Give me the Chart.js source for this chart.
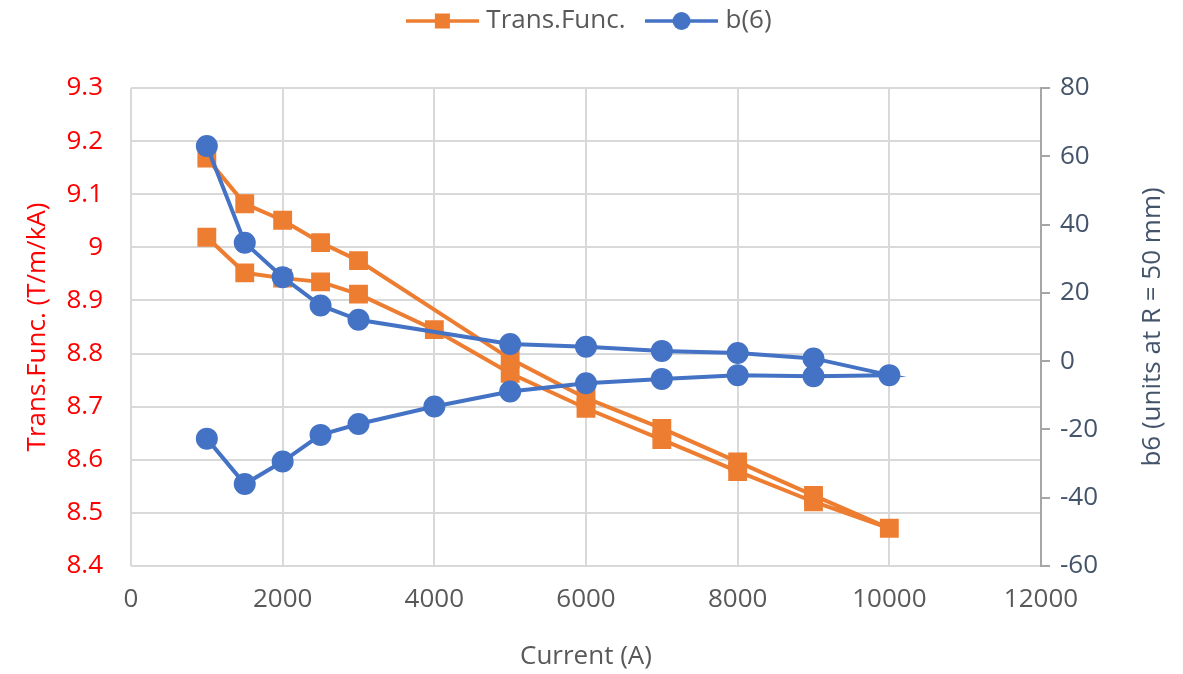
<!DOCTYPE html>
<html>
<head>
<meta charset="utf-8">
<script src="https://cdn.jsdelivr.net/npm/chart.js@4/dist/chart.umd.min.js"></script>
<style>
  body { margin: 0; background: #fff; }
</style>
</head>
<body>
<canvas id="myChart" width="1183" height="674"></canvas>
<script>
// ramp up (measured with the 4000 A point)
const rampUpCurrent = [1000, 1500, 2000, 2500, 3000, 4000, 5000, 6000, 7000, 8000, 9000, 10000];
const rampUpTransFunc = [9.019, 8.952, 8.942, 8.935, 8.912, 8.845, 8.763, 8.697, 8.638, 8.578, 8.521, 8.471];
const rampUpB6 = [-22.7, -36.0, -29.4, -21.6, -18.4, -13.3, -8.9, -6.5, -5.2, -4.1, -4.4, -4.1];

// ramp down
const rampDownCurrent = [9000, 8000, 7000, 6000, 5000, 3000, 2500, 2000, 1500, 1000];
const rampDownTransFunc = [8.533, 8.596, 8.659, 8.716, 8.790, 8.975, 9.009, 9.051, 9.082, 9.168];
const rampDownB6 = [0.8, 2.4, 3.0, 4.2, 5.0, 12.1, 16.3, 24.6, 34.7, 63.0];

const current = rampUpCurrent.concat(rampDownCurrent);
const transFunc = rampUpTransFunc.concat(rampDownTransFunc);
const b6 = rampUpB6.concat(rampDownB6);

const orange = '#ED7D31';
const blue = '#4472C4';
const rightTitle = 'b6 (units at R = 50 mm)';

function legendIcon(color, square) {
    const c = document.createElement('canvas');
    c.width = 73;
    c.height = 24;
    const g = c.getContext('2d');
    g.strokeStyle = color;
    g.fillStyle = color;
    g.lineWidth = 3.5;
    g.beginPath();
    g.moveTo(0, 12);
    g.lineTo(73, 12);
    g.stroke();
    if (square) {
        g.fillRect(36.5 - 7.5, 12 - 7.5, 15, 15);
    } else {
        g.beginPath();
        g.arc(36.5, 12, 9, 0, Math.PI * 2);
        g.fill();
    }
    return c;
}

const legendSpacing = {
    id: 'legendSpacing',
    beforeInit(chart) {
        const fit = chart.legend.fit;
        chart.legend.fit = function () {
            fit.call(this);
            this.height = 105;
        };
    }
};

// right axis title reads bottom to top, like Excel
const rightAxisTitle = {
    id: 'rightAxisTitle',
    afterDraw(chart) {
        const s = chart.scales.y1;
        const g = chart.ctx;
        g.save();
        g.translate(s.right - 30, (s.top + s.bottom) / 2);
        g.rotate(-Math.PI / 2);
        g.font = '26px "Open Sans"';
        g.fillStyle = '#44546A';
        g.textAlign = 'center';
        g.textBaseline = 'middle';
        g.fillText(rightTitle, 0, 0);
        g.restore();
    }
};

const font = { family: 'Open Sans', size: 26 };

const ctx = document.getElementById('myChart');
new Chart(ctx, {
    type: 'scatter',
    data: {
        datasets: [{
            label: 'Trans.Func.',
            data: current.map((x, i) => ({ x: x, y: transFunc[i] })),
            yAxisID: 'y',
            showLine: true,
            borderColor: orange,
            backgroundColor: orange,
            borderWidth: 4,
            pointStyle: 'rect',
            pointRadius: 10.5,
            pointHoverRadius: 10.5,
            order: 2
        },
        {
            label: 'b(6)',
            data: current.map((x, i) => ({ x: x, y: b6[i] })),
            yAxisID: 'y1',
            showLine: true,
            borderColor: blue,
            backgroundColor: blue,
            borderWidth: 4,
            pointStyle: 'circle',
            pointRadius: 9,
            pointHoverRadius: 9,
            order: 1
        }]
    },
    options: {
        responsive: false,
        animation: false,
        devicePixelRatio: 1,
        layout: { padding: { top: -17, left: 0, right: 0, bottom: 0 } },
        plugins: {
            tooltip: { enabled: false },
            legend: {
                position: 'top',
                labels: {
                    usePointStyle: true,
                    pointStyleWidth: 62,
                    padding: 25,
                    color: '#595959',
                    font: font,
                    generateLabels: (chart) => chart.data.datasets.map((ds, i) => ({
                        text: ds.label,
                        datasetIndex: i,
                        fontColor: '#595959',
                        pointStyle: legendIcon(ds.borderColor, ds.pointStyle === 'rect'),
                        lineWidth: 0
                    }))
                }
            }
        },
        scales: {
            x: {
                type: 'linear',
                min: 0,
                max: 12000,
                ticks: { stepSize: 2000, color: '#595959', font: font, padding: 18, maxRotation: 0, callback: (v) => String(v) },
                grid: { color: '#d9d9d9', lineWidth: 2, drawTicks: false },
                border: { display: false },
                title: { display: true, text: 'Current (A)', color: '#595959', font: font, padding: { top: 0, bottom: 2 } },
                afterFit: (scale) => { scale.height = 108; }
            },
            y: {
                position: 'left',
                min: 8.4,
                max: 9.3,
                ticks: {
                    stepSize: 0.1,
                    color: '#FF0000',
                    font: font,
                    padding: 28,
                    callback: (v) => String(Number(v.toFixed(1)))
                },
                grid: { color: '#d9d9d9', lineWidth: 2, drawTicks: false },
                border: { display: false },
                title: { display: true, text: 'Trans.Func. (T/m/kA)', color: '#FF0000', font: font, padding: { top: 22, bottom: 0 } },
                afterFit: (scale) => { scale.width = 131; }
            },
            y1: {
                position: 'right',
                min: -60,
                max: 80,
                ticks: { stepSize: 20, color: '#44546A', font: font, padding: 10 },
                grid: { drawOnChartArea: false, color: '#a6a6a6', lineWidth: 2, tickLength: 9 },
                border: { display: true, color: '#a6a6a6', width: 2 },
                afterFit: (scale) => { scale.width = 142; }
            }
        }
    },
    plugins: [legendSpacing, rightAxisTitle]
});
</script>
</body>
</html>
